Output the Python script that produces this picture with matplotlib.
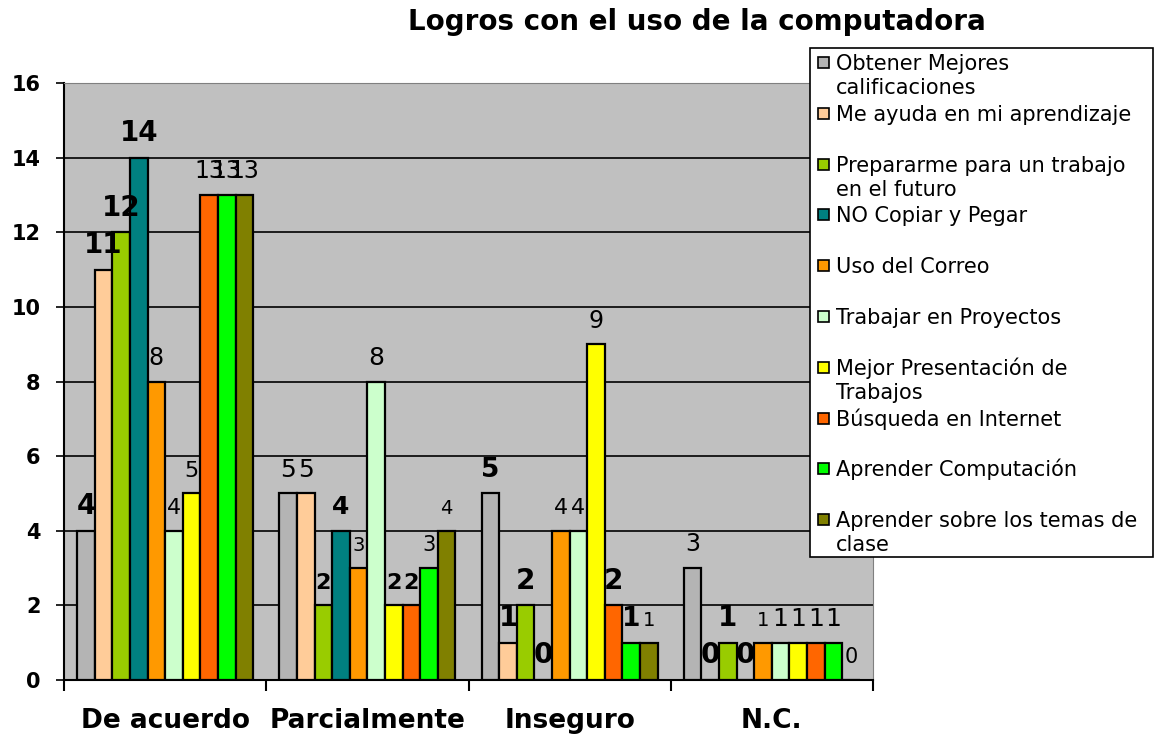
import matplotlib
matplotlib.use('Agg')
import matplotlib.pyplot as plt
from matplotlib.patches import Rectangle
import numpy as np

plt.rcParams['font.family'] = ['DejaVu Sans']

# Datos
categorias = ['De acuerdo', 'Parcialmente', 'Inseguro', 'N.C.']
series = ['Obtener Mejores\ncalificaciones',
          'Me ayuda en mi aprendizaje',
          'Prepararme para un trabajo\nen el futuro',
          'NO Copiar y Pegar',
          'Uso del Correo',
          'Trabajar en Proyectos',
          'Mejor Presentación de\nTrabajos',
          'Búsqueda en Internet',
          'Aprender Computación',
          'Aprender sobre los temas de\nclase']
# una fila por serie, una columna por categoria
valores = [
    [4, 5, 5, 3],
    [11, 5, 1, 0],
    [12, 2, 2, 1],
    [14, 4, 0, 0],
    [8, 3, 4, 1],
    [4, 8, 4, 1],
    [5, 2, 9, 1],
    [13, 2, 2, 1],
    [13, 3, 1, 1],
    [13, 4, 1, 0],
]
colores = ['#B4B4B4', '#FFCC99', '#99CC00', '#008080', '#FF9900',
           '#CCFFCC', '#FFFF00', '#FF6600', '#00FF00', '#808000']

# estilo de las etiquetas (por categoria, por serie)
tam_etiq = [
    [20, 20, 20, 20, 17, 16, 16, 17, 17, 17],
    [18, 18, 16, 18, 14, 18, 16, 16, 15, 14],
    [19, 20, 20, 20, 16, 16, 17, 20, 19, 14],
    [17, 20, 20, 20, 14, 18, 18, 18, 18, 15],
]
negrita = [
    [1, 1, 1, 1, 0, 0, 0, 0, 0, 0],
    [0, 0, 1, 1, 0, 0, 1, 1, 0, 0],
    [1, 1, 1, 1, 0, 0, 0, 1, 1, 0],
    [0, 1, 1, 1, 0, 0, 0, 0, 0, 0],
]

W, H = 1162, 738
fig = plt.figure(figsize=(W / 100, H / 100), dpi=100)
ax = fig.add_axes([64 / W, 1 - 680 / H, (873 - 64) / W, (680 - 83) / H])
ax.set_facecolor('#C0C0C0')

n = len(series)
ancho = 0.087
x0 = np.arange(len(categorias))
for j in range(n):
    xs = x0 - ancho * n / 2 + ancho * (j + 0.5)
    ax.bar(xs, valores[j], ancho, color=colores[j], edgecolor='black',
           linewidth=1.6, zorder=3)
    for i, v in enumerate(valores[j]):
        ax.annotate(str(v), (xs[i], v), xytext=(0, 12), textcoords='offset points',
                    ha='center', va='baseline', fontsize=tam_etiq[i][j],
                    fontweight='bold' if negrita[i][j] else 'normal', zorder=5)

ax.set_xlim(-0.5, 3.5)
ax.set_ylim(0, 16)
ax.set_yticks(range(0, 17, 2))
ax.yaxis.grid(True, color='black', linewidth=1.2)
ax.set_axisbelow(True)
ax.tick_params(axis='y', direction='out', length=6, width=1.2, pad=11,
               labelsize=15)
for t in ax.get_yticklabels():
    t.set_fontweight('bold')

ax.set_xticks(x0)
ax.set_xticklabels(categorias, fontsize=19, fontweight='bold')
ax.tick_params(axis='x', which='major', length=0, pad=20)
ax.set_xticks(np.arange(-0.5, 4, 1), minor=True)
ax.tick_params(axis='x', which='minor', direction='out', length=8, width=1.5)

ax.spines['left'].set_color('black')
ax.spines['left'].set_linewidth(1.5)
ax.spines['bottom'].set_color('black')
ax.spines['bottom'].set_linewidth(1.5)
ax.spines['top'].set_color('#808080')
ax.spines['right'].set_color('#808080')

fig.text(697 / W, 1 - 30 / H, 'Logros con el uso de la computadora',
         ha='center', va='baseline', fontsize=20, fontweight='bold')

# leyenda dibujada a mano (coordenadas en pixeles de la figura)
lg = fig.add_axes([0, 0, 1, 1], zorder=10)
lg.set_xlim(0, W)
lg.set_ylim(H, 0)
lg.axis('off')
lg.add_patch(Rectangle((810, 48), 343, 509, facecolor='white',
                       edgecolor='black', linewidth=1.2))
for k, nombre in enumerate(series):
    base = 70 + 50.8 * k
    lg.add_patch(Rectangle((818, base - 13), 11, 11, facecolor=colores[k],
                           edgecolor='black', linewidth=1.2))
    for m, linea in enumerate(nombre.split('\n')):
        lg.text(836, base + 24 * m, linea, fontsize=15, va='baseline', ha='left')

fig.savefig('out.png', dpi=100)
